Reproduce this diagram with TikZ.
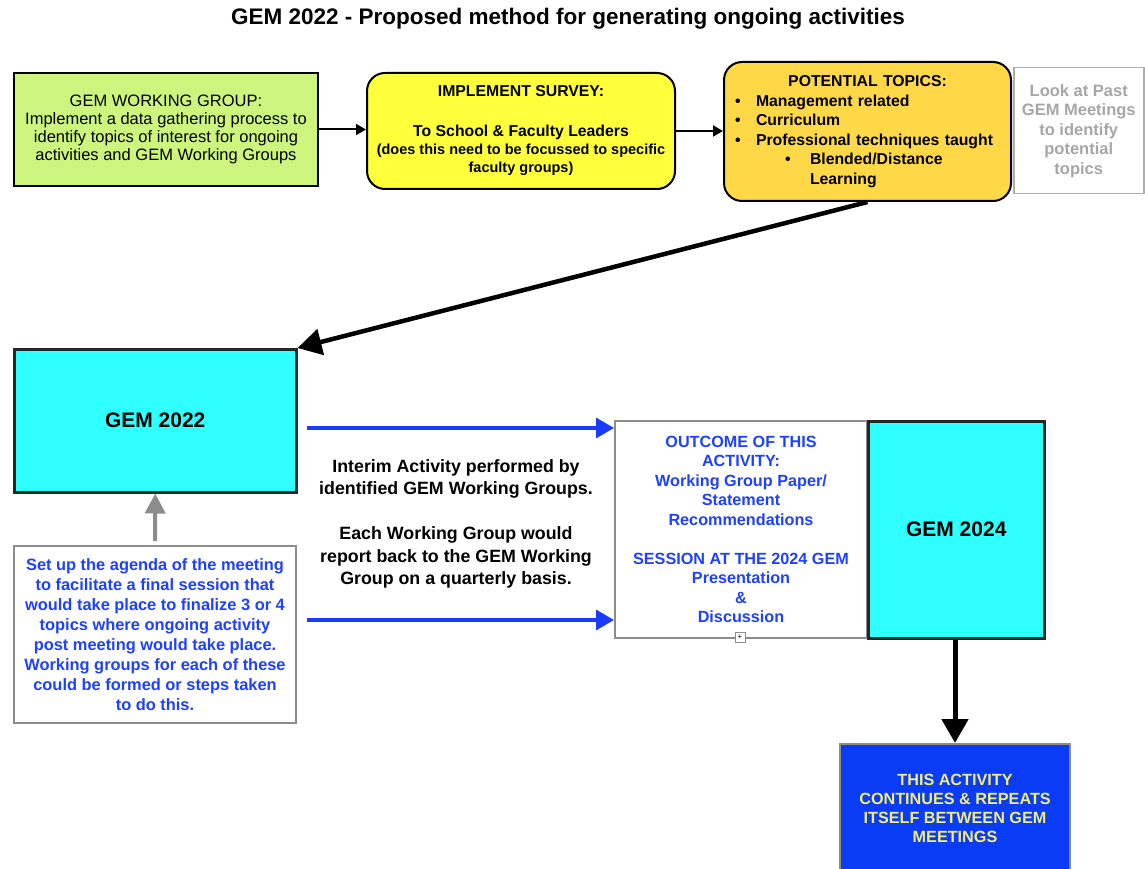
\documentclass[tikz,border=0pt]{standalone}
\usepackage{fontspec}
\setmainfont{Liberation Sans}
\usetikzlibrary{arrows.meta}
\definecolor{wgfill}{HTML}{CDF57E}
\definecolor{survfill}{HTML}{FFFF3C}
\definecolor{topfill}{HTML}{FFD848}
\definecolor{cyanfill}{HTML}{30FFFF}
\definecolor{bluetext}{HTML}{1E40FF}
\definecolor{bluefill}{HTML}{0A3CF5}
\definecolor{yeltext}{HTML}{F2EE78}
\definecolor{greyline}{HTML}{8C8C8C}
\definecolor{greytext}{HTML}{A6A6A6}
\definecolor{arrowblue}{HTML}{1A3CFF}
\begin{document}
\begin{tikzpicture}[x=1pt,y=-1pt,
  box/.style={rectangle, anchor=north west, inner sep=0pt, align=center},
  wgbox/.style={box, draw=black, line width=2pt, fill=wgfill, font=\fontsize{16.5}{18.2}\selectfont},
  survbox/.style={box, draw=black, line width=2pt, fill=survfill, rounded corners=18pt, font=\fontsize{15.8}{18}\selectfont\bfseries},
  topbox/.style={box, draw=black, line width=2pt, fill=topfill, rounded corners=18pt, font=\fontsize{15.8}{19.5}\selectfont\bfseries, align=left, inner xsep=11pt},
  pastbox/.style={box, draw=greyline!70, line width=1.5pt, text=greytext, font=\fontsize{16.5}{19.5}\selectfont\bfseries},
  gembox/.style={box, draw=black!85, line width=2.5pt, fill=cyanfill, font=\fontsize{21}{24}\selectfont\bfseries},
  notebox/.style={box, draw=greyline, line width=2pt, fill=white, text=bluetext, font=\fontsize{16.4}{20}\selectfont\bfseries},
  outbox/.style={box, draw=greyline, line width=2pt, fill=white, text=bluetext, font=\fontsize{16.2}{19.5}\selectfont\bfseries},
  contbox/.style={box, draw=greyline, line width=2pt, fill=bluefill},
  plain/.style={inner sep=0pt, align=center},
  blk/.style={draw=black, line width=2pt, -{Triangle[length=10pt,width=11pt]}},
  bigblk/.style={draw=black, line width=4.5pt, -{Triangle[length=24pt,width=26pt]}},
  downblk/.style={draw=black, line width=5pt, -{Triangle[length=24pt,width=26pt]}},
  greyarr/.style={draw=greyline, line width=4pt, -{Triangle[length=20pt,width=20pt]}},
  bluearr/.style={draw=arrowblue, line width=3.5pt, -{Triangle[length=18pt,width=20pt]}}
]
\useasboundingbox (0,0) rectangle (1145,869);

% title
\node[plain, font=\fontsize{22.5}{24}\selectfont\bfseries] (title) at (568,19) {GEM 2022 - Proposed method for generating ongoing activities};

% top row
\node[wgbox, minimum width=304pt, minimum height=113pt] (wg) at (13,72)
  {GEM WORKING GROUP:\\Implement a data gathering process to\\identify topics of interest for ongoing\\activities and GEM Working Groups};
\node[survbox, minimum width=308pt, minimum height=116pt] (surv) at (366,72)
  {IMPLEMENT SURVEY:\\[22pt]To School \& Faculty Leaders\\{\fontsize{14.5}{18}\selectfont (does this need to be focussed to specific}\\{\fontsize{14.5}{18}\selectfont faculty groups)}};
\node[topbox, minimum width=287pt, minimum height=139pt, text width=265pt] (pt) at (723,61)
  {\makebox[265pt][c]{POTENTIAL TOPICS:}\\
   \makebox[21pt][l]{\textbullet}Management related\\
   \makebox[21pt][l]{\textbullet}Curriculum\\
   \makebox[21pt][l]{\textbullet}Professional techniques taught\\
   \hspace{50pt}\makebox[25pt][l]{\textbullet}Blended/Distance\\
   \hspace{75pt}Learning};
\node[pastbox, minimum width=130pt, minimum height=126pt] (past) at (1013,67)
  {Look at Past\\GEM Meetings\\to identify\\potential\\topics};

\draw[blk] (wg.east) -- (wg.east -| surv.west);
\draw[blk] (surv.east) -- (surv.east -| pt.west);

% GEM 2022
\node[gembox, minimum width=282pt, minimum height=143pt] (g22) at (13,348) {GEM 2022};
\draw[bigblk] (pt.south) -- (g22.north east);

% agenda box
\node[notebox, minimum width=282pt, minimum height=177pt] (agenda) at (13,545)
  {Set up the agenda of the meeting\\to facilitate a final session that\\would take place to finalize 3 or 4\\topics where ongoing activity\\post meeting would take place.\\Working groups for each of these\\could be formed or steps taken\\to do this.};
\draw[greyarr] (agenda.north) ++(0,-4) -- (g22.south);

% outcome and GEM 2024
\node[outbox, minimum width=252pt, minimum height=217pt] (out) at (614,420)
  {OUTCOME OF THIS\\ACTIVITY:\\Working Group Paper/\\Statement\\Recommendations\\[19.5pt]SESSION AT THE 2024 GEM\\Presentation\\\&\\Discussion};
\node[gembox, minimum width=176pt, minimum height=217pt] (g24) at (867,420) {GEM 2024};
\node[draw=greyline, line width=0.8pt, fill=white, minimum size=10pt, inner sep=0pt, font=\fontsize{8}{8}\selectfont] (icon) at (740,637) {+};

% blue arrows and interim text
\coordinate (a1) at (307,428);
\coordinate (a2) at (307,620);
\draw[bluearr] (a1) -- (a1 -| out.west);
\draw[bluearr] (a2) -- (a2 -| out.west);
\node[plain, font=\fontsize{17.8}{22.5}\selectfont\bfseries] (interim) at (456,524)
  {Interim Activity performed by\\identified GEM Working Groups.\\[22.5pt]Each Working Group would\\report back to the GEM Working\\Group on a quarterly basis.};

% continues box
\node[contbox, minimum width=230pt, minimum height=140pt, anchor=north] (cont) at (955,743) {};
\node[plain, text=yeltext, font=\fontsize{16.2}{19}\selectfont\bfseries] (conttext) at (955,808)
  {THIS ACTIVITY\\CONTINUES \& REPEATS\\ITSELF BETWEEN GEM\\MEETINGS};
\draw[downblk] (g24.south -| cont.north) -- (cont.north);
\end{tikzpicture}
\end{document}
